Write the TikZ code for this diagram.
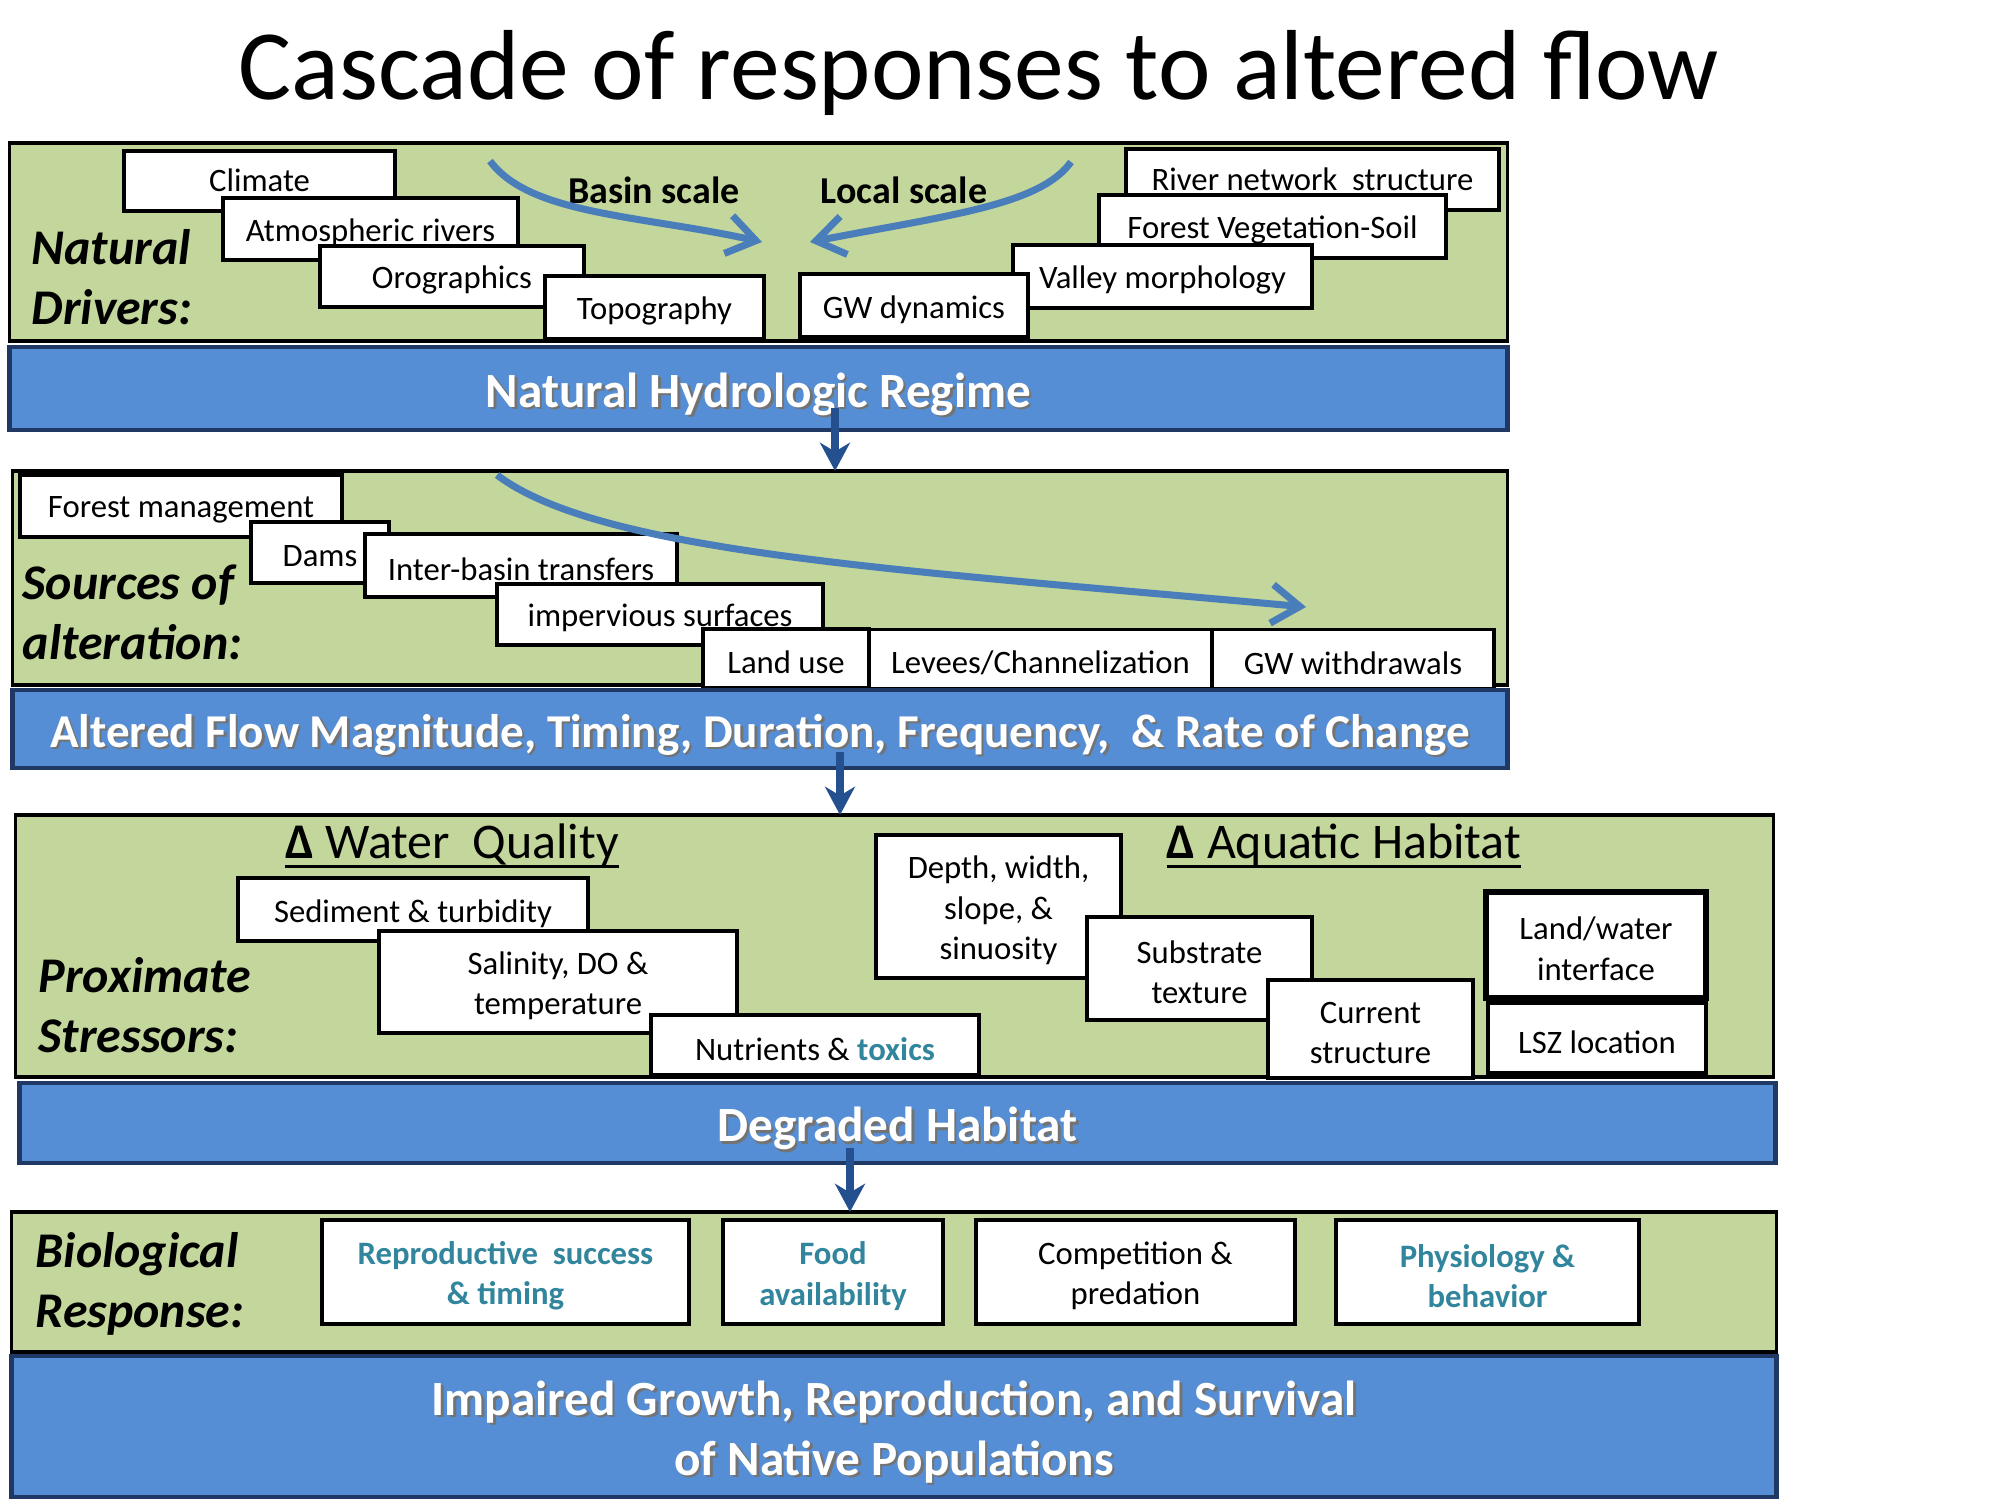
\documentclass[tikz,border=0pt]{standalone}
\usepackage{fontspec}
\setmainfont{Carlito}
\usetikzlibrary{arrows.meta}
\definecolor{panelgreen}{HTML}{C3D69B}
\definecolor{barblue}{HTML}{558ED5}
\definecolor{barborder}{HTML}{1F3864}
\definecolor{flowblue}{HTML}{4A7EBB}
\definecolor{stepblue}{HTML}{24508F}
\definecolor{tealtext}{HTML}{31859C}
\newcommand{\shadetext}[1]{\leavevmode\rlap{\hspace{0.7pt}\raisebox{-0.7pt}{\textcolor{black!55}{#1}}}#1}
\newsavebox{\ulbox}
\newcommand{\ulinetext}[1]{\sbox{\ulbox}{#1}\rlap{\rule[-2.7pt]{\wd\ulbox}{0.85pt}}\usebox{\ulbox}}

\begin{document}
\begin{tikzpicture}[x=0.01cm,y=-0.01cm,
    panel/.style={draw=black,line width=0.95pt,fill=panelgreen,inner sep=0pt,outer sep=0pt},
    bar/.style={draw=barborder,line width=1.2pt,fill=barblue,inner sep=0pt,outer sep=0pt},
    bartext/.style={text=white,align=center,yshift=-1.9pt,font=\fontsize{14}{17}\selectfont\bfseries},
    bartxt/.style={label={[bartext]center:#1}},
    item/.style={draw=black,line width=1pt,fill=white,inner sep=0pt,outer sep=0pt},
    itemtext/.style={align=center,yshift=-1.1pt,font=\fontsize{9.3}{11.5}\selectfont},
    txt/.style={label={[itemtext]center:#1}},
    toptxt/.style={label={[itemtext,yshift=1.2pt]center:#1}},
    biotxt/.style={label={[itemtext,text=tealtext,font=\fontsize{9.3}{11.5}\selectfont\bfseries]center:#1}},
    bioitem/.style={item,line width=1.3pt},
    rowlabel/.style={anchor=west,align=left,inner sep=0pt,font=\fontsize{14.2}{17.1}\selectfont\bfseries\itshape},
    heading/.style={anchor=base,inner sep=0pt,font=\fontsize{14.2}{17}\selectfont},
    flowarrow/.style={draw=flowblue,line width=2pt,-{Straight Barb[length=8pt,width=11pt]}},
    steparrow/.style={draw=stepblue,line width=2.5pt,-{Stealth[length=8pt,width=8.5pt,inset=2.5pt]}}]
    \path[use as bounding box,fill=white] (0,0) rectangle (2000,1500);

    \node[anchor=base,font=\fontsize{28.3}{33}\selectfont] (title) at (979,100) {Cascade of responses to altered flow};

    % Natural drivers
    \node[panel,minimum width=14.97cm,minimum height=1.98cm] (drivers) at (758.5,242) {};
    \node[rowlabel] (driverslbl) at (31,277) {Natural\\Drivers:};
    \node[item,minimum width=2.71cm,minimum height=0.60cm,toptxt=Climate] (climate) at (259.5,181) {};
    \node[item,minimum width=2.95cm,minimum height=0.62cm,txt=Atmospheric rivers] (atmo) at (370.5,229) {};
    \node[item,minimum width=2.64cm,minimum height=0.61cm,txt=Orographics] (orog) at (452,276.5) {};
    \node[item,minimum width=2.19cm,minimum height=0.63cm,txt=Topography] (topo) at (654.5,307.5) {};
    \node[item,minimum width=3.73cm,minimum height=0.61cm,toptxt=River network\ \ structure] (rivernet) at (1312.5,179.5) {};
    \node[item,minimum width=3.47cm,minimum height=0.63cm,txt=Forest Vegetation-Soil] (forestveg) at (1272.5,226.5) {};
    \node[item,minimum width=2.99cm,minimum height=0.63cm,txt=Valley morphology] (valley) at (1162.5,276.5) {};
    \node[item,minimum width=2.28cm,minimum height=0.63cm,txt=GW dynamics] (gwdyn) at (914,305.5) {};
    \node[anchor=base,inner sep=0pt,font=\fontsize{10.8}{13}\selectfont\bfseries] (basin) at (654,203.5) {Basin scale};
    \node[anchor=base,inner sep=0pt,font=\fontsize{10.8}{13}\selectfont\bfseries] (local) at (904,203.5) {Local scale};

    % Scale arrows
    \coordinate (basin0) at (490,161);
    \coordinate (basin1) at (762,242);
    \coordinate (local0) at (1071,162);
    \coordinate (local1) at (810,242);
    \draw[flowarrow] (basin0) .. controls (530,215) and (640,215) .. (basin1);
    \draw[flowarrow] (local0) .. controls (1040,205) and (950,215) .. (local1);

    \node[bar,minimum width=14.97cm,minimum height=0.83cm,bartxt={\shadetext{Natural Hydrologic Regime}}] (hydro) at (758.5,388.5) {};

    % Sources of alteration
    \node[panel,minimum width=14.94cm,minimum height=2.14cm] (sources) at (760,578) {};
    \node[rowlabel] (sourceslbl) at (22,612) {Sources of\\alteration:};
    \node[item,minimum width=3.22cm,minimum height=0.62cm,txt=Forest management] (forestmgmt) at (181,506) {};
    \node[item,minimum width=1.38cm,minimum height=0.61cm,txt=Dams] (dams) at (320,552.5) {};
    \node[item,minimum width=3.12cm,minimum height=0.63cm,txt=Inter-basin transfers] (interbasin) at (521,565.5) {};
    \node[item,minimum width=3.26cm,minimum height=0.61cm,txt=impervious surfaces] (impervious) at (660,614.5) {};
    \node[item,minimum width=1.66cm,minimum height=0.59cm,txt=Land use] (landuse) at (786,658.5) {};
    \node[item,minimum width=3.43cm,minimum height=0.59cm,txt=Levees/Channelization] (levees) at (1040.5,659) {};
    \node[item,minimum width=2.82cm,minimum height=0.59cm,txt=GW withdrawals] (gwwith) at (1353,659) {};

    \coordinate (alter0) at (497,475);
    \coordinate (alter1) at (1306,607);
    \draw[flowarrow] (alter0) .. controls (600,553) and (900,570) .. (alter1);

    \node[bar,minimum width=14.94cm,minimum height=0.78cm,bartxt={\fontsize{13.4}{16}\selectfont\shadetext{Altered Flow Magnitude, Timing, Duration, Frequency,\ \ \& Rate of Change}}] (altered) at (760,729) {};

    % Proximate stressors
    \node[panel,minimum width=17.57cm,minimum height=2.62cm] (stressors) at (894.5,946) {};
    \node[rowlabel] (stressorslbl) at (38,1005) {Proximate\\Stressors:};
    \node[heading] (waterq) at (452,858) {\ulinetext{\textbf{Δ} Water\ \ Quality}};
    \node[heading] (aquatic) at (1344,858) {\ulinetext{\textbf{Δ} Aquatic Habitat}};
    \node[item,minimum width=3.50cm,minimum height=0.63cm,txt=Sediment \& turbidity] (sediment) at (413,909.5) {};
    \node[item,minimum width=3.58cm,minimum height=1.02cm,txt={Salinity, DO \&\\temperature}] (salinity) at (558,982) {};
    \node[item,minimum width=3.28cm,minimum height=0.60cm,txt={Nutrients \& \textcolor{tealtext}{\bfseries toxics}}] (nutrients) at (815,1045) {};
    \node[item,minimum width=2.45cm,minimum height=1.43cm,txt={Depth, width,\\slope, \&\\sinuosity}] (depth) at (998.5,906.5) {};
    \node[item,minimum width=2.25cm,minimum height=1.03cm,txt={Substrate\\texture}] (substrate) at (1199.5,968.5) {};
    \node[item,minimum width=2.05cm,minimum height=0.98cm,txt={Current\\structure}] (current) at (1370.5,1029) {};
    \node[item,line width=1.7pt,minimum width=2.20cm,minimum height=1.06cm,txt={Land/water\\interface}] (landwater) at (1596,945) {};
    \node[item,line width=1.2pt,minimum width=2.18cm,minimum height=0.70cm,txt=LSZ location] (lsz) at (1597,1038) {};

    \node[bar,minimum width=17.55cm,minimum height=0.80cm,bartxt={\shadetext{Degraded Habitat}}] (degraded) at (897.5,1123) {};

    % Biological response
    \node[panel,minimum width=17.64cm,minimum height=1.40cm] (response) at (894,1282) {};
    \node[rowlabel] (responselbl) at (35,1284) {Biological\\Response:};
    \node[bioitem,minimum width=3.67cm,minimum height=1.04cm,biotxt={Reproductive\ \ success\\\& timing}] (repro) at (505.5,1272) {};
    \node[bioitem,minimum width=2.20cm,minimum height=1.04cm,biotxt={Food\\availability}] (food) at (833,1272) {};
    \node[bioitem,minimum width=3.19cm,minimum height=1.04cm,txt={Competition \&\\predation}] (competition) at (1135.5,1272) {};
    \node[bioitem,minimum width=3.03cm,minimum height=1.04cm,biotxt={Physiology \&\\behavior}] (physiology) at (1487.5,1272) {};

    \node[bar,minimum width=17.64cm,minimum height=1.41cm,bartxt={\shadetext{Impaired Growth, Reproduction, and Survival}\\\shadetext{of Native Populations}}] (impaired) at (894,1426.5) {};

    % Cascade arrows
    \draw[steparrow] (hydro.south -| 835,0) ++(0,-22) -- (sources.north -| 835,0);
    \draw[steparrow] (altered.south -| 840,0) ++(0,-16) -- (stressors.north -| 840,0);
    \draw[steparrow] (degraded.south -| 850,0) ++(0,-15) -- (response.north -| 850,0);
\end{tikzpicture}
\end{document}
